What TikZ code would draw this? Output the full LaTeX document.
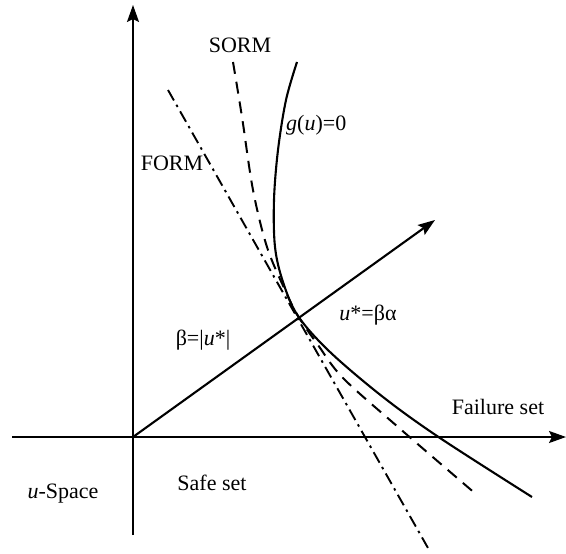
\documentclass[tikz,border=0pt]{standalone}
\usepackage{fontspec}
\setmainfont{Liberation Serif}
\usetikzlibrary{arrows.meta}
\begin{document}
\begin{tikzpicture}[x=1pt,y=-1pt,
  axis/.style={line width=2.1pt,-{Stealth[length=17pt,width=12pt,inset=3pt]}},
  curve/.style={line width=2.1pt},
  sorm/.style={line width=2pt,dash pattern=on 12pt off 8pt},
  form/.style={line width=1.9pt,dash pattern=on 12pt off 5pt on 2.5pt off 5pt},
  lbl/.style={inner sep=0pt,font=\fontsize{22}{26}\selectfont}]
\useasboundingbox (0,0) rectangle (566,554);
\coordinate (xl) at (12,437);
\coordinate (xr) at (566,437);
\coordinate (yb) at (133,535);
\coordinate (yt) at (133,5);
\coordinate (O) at (133,437);
\coordinate (rt) at (435,220);
\coordinate (us) at (298,316);
\coordinate (f1) at (168,90);
\coordinate (f2) at (428,548);
\draw[axis] (xl) -- (xr);
\draw[axis] (yb) -- (yt);
\draw[axis] (O) -- (rt);
\draw[curve] plot[smooth,tension=0.55] coordinates {(297,62) (286,100) (278,150) (274,200) (275,247) (283,282) (us) (330,352) (383,397) (440,438) (532,497)};
\draw[sorm] plot[smooth,tension=0.55] coordinates {(233,62) (242,117) (253,190) (267,247) (285,290) (us) (318,345) (343,378) (398,427) (477,495)};
\draw[form] (f1) -- (f2);
\node[lbl] (sormlbl) at (240,45) {SORM};
\node[lbl,anchor=west] (glbl) at (286,125) {\textit{g}(\textit{u})=0};
\node[lbl] (formlbl) at (172,163) {FORM};
\node[lbl] (uslbl) at (368,315) {\textit{u}*=βα};
\node[lbl] (betalbl) at (203,340) {β=|\textit{u}*|};
\node[lbl] (faillbl) at (498,407) {Failure set};
\node[lbl] (safelbl) at (212,483) {Safe set};
\node[lbl] (spacelbl) at (63,494) {\textit{u}-Space};
\end{tikzpicture}
\end{document}
